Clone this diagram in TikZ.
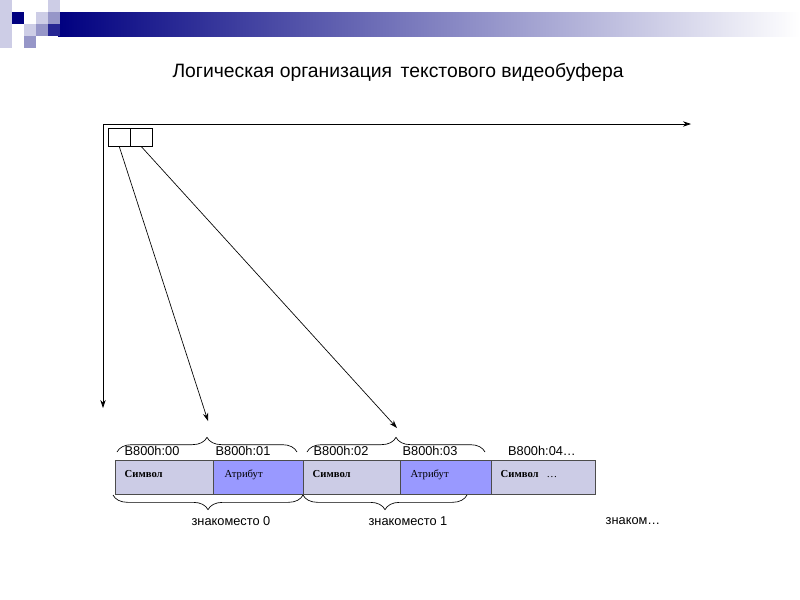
\documentclass[tikz,border=0pt]{standalone}
\usepackage{fontspec}
\setmainfont{Liberation Sans}
\newfontfamily\serifcell{Liberation Serif}
\usetikzlibrary{decorations.pathreplacing,arrows.meta}
\definecolor{navy}{RGB}{0,0,128}
\definecolor{midb}{RGB}{150,150,200}
\definecolor{lightb}{RGB}{205,205,230}
\definecolor{cellA}{RGB}{204,204,230}
\definecolor{cellB}{RGB}{153,153,255}
\tikzset{
  cell/.style={draw=black!70,line width=0.5pt,minimum height=25.5pt,inner sep=0pt,anchor=north west},
  arr/.style={-{Stealth[length=6pt,width=4pt]},line width=0.5pt},
  brc/.style={decorate,decoration={brace,amplitude=11pt,aspect=0.5},line width=0.5pt},
  lbl/.style={font=\fontsize{9.6}{11}\selectfont},
  sq/.style={draw=none,minimum size=9pt,inner sep=0pt,anchor=north west}
}
\begin{document}
\begin{tikzpicture}[x=0.75pt,y=-0.75pt]
\useasboundingbox (0,0) rectangle (800,600);
% decoration
\shade[left color=navy,right color=white] (58,12) rectangle (800,36);
\fill[lightb] (0,0) rectangle (12,48);
\node[sq,fill=lightb] (s1) at (48,0) {};
\node[sq,fill=navy] (s2) at (12,12) {};
\node[sq,fill=lightb] (s3) at (36,12) {};
\node[sq,fill=midb] (s4) at (48,12) {};
\node[sq,fill=lightb] (s5) at (24,24) {};
\node[sq,fill=midb] (s6) at (36,24) {};
\node[sq,fill=navy!85] (s7) at (48,24) {};
\node[sq,fill=midb] (s8) at (24,36) {};
% title
\node[font=\fontsize{14.5}{16}\selectfont] (title) at (398,72) {Логическая организация\, текстового видеобуфера};
% axes
\coordinate (o) at (103,124);
\coordinate (xe) at (691,124);
\coordinate (ye) at (103,408);
\draw[arr] (o) -- (xe);
\draw[arr] (o) -- (ye);
% small boxes
\node[draw,minimum width=16.5pt,minimum height=13.5pt,inner sep=0pt,anchor=north west] (b1) at (108,128) {};
\node[draw,minimum width=16.5pt,minimum height=13.5pt,inner sep=0pt,anchor=north west] (b2) at (130,128) {};
% table
\node[cell,fill=cellA,minimum width=73.5pt] (c1) at (115,460) {};
\node[cell,fill=cellB,minimum width=67.5pt] (c2) at (213,460) {};
\node[cell,fill=cellA,minimum width=72.75pt] (c3) at (303,460) {};
\node[cell,fill=cellB,minimum width=68.25pt] (c4) at (400,460) {};
\node[cell,fill=cellA,minimum width=78pt] (c5) at (491,460) {};
\tikzset{ct/.style={anchor=base west,font=\serifcell\fontsize{8}{9}\selectfont}}
\node[ct] at (120,477) {\textbf{Символ}};
\node[ct] at (220,477) {Атрибут};
\node[ct] at (308,477) {\textbf{Символ}};
\node[ct] at (406,477) {Атрибут};
\node[ct] at (496,477) {\textbf{Символ} \ \ …};
% address labels
\node[lbl] at (152,451) {B800h:00};
\node[lbl] at (243,451) {B800h:01};
\node[lbl] at (341,451) {B800h:02};
\node[lbl] at (430,451) {B800h:03};
\node[lbl] at (542,451) {B800h:04…};
% braces top
\draw[brc] (117,452) -- (297,452);
\draw[brc] (307,452) -- (485,452);
\coordinate (t1) at (208,421);
\coordinate (t2) at (397,428);
% pointer arrows
\draw[arr] (b1.south) -- (t1);
\draw[arr] (b2.south) -- (t2);
% braces bottom
\draw[brc] (303,495) -- (113,495);
\draw[brc] (467,495) -- (303,495);
\node[lbl] at (231,521) {знакоместо 0};
\node[lbl] at (408,521) {знакоместо 1};
\node[lbl] at (633,521) {знаком…};
\end{tikzpicture}
\end{document}
